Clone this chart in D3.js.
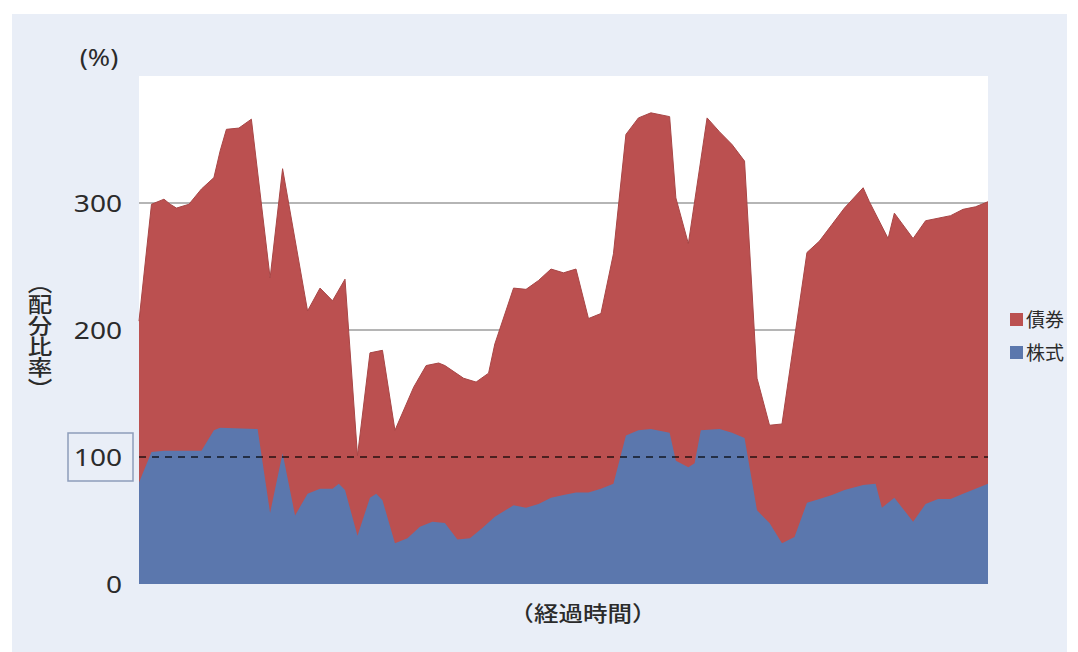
<!DOCTYPE html>
<html><head><meta charset="utf-8">
<script src="https://cdn.jsdelivr.net/npm/d3@7"></script>
<style>body{margin:0;background:#fff}</style>
</head><body><svg id="c" width="1078" height="652"></svg>
<script>
// ---- data ----
const yTicks = [0, 100, 200, 300];
const gridValues = [200, 300];
const referenceLevel = 100;
const seriesNames = ["債券", "株式"];
// time index (elapsed months) and stacked top of 債券 (株式 + 債券)
const totalMonths = [0,2,4,5,6,8,10,12,13,14,16,18,21,23,27,29,31,33,35,37,39,41,44,46,48,49,52,54,56,57,60,62,64,66,68,70,72,74,76,78,80,82,85,86,88,91,93,95,97,99,101,103,107,109,111,113,116,117,120,121,124,126,128,130,132,134,136];
const totalValues = [207,299,303,299,296,299,311,320,341,358,359,366,241,327,215,233,223,240,101,182,184,121,155,172,174,172,162,159,166,189,233,232,239,248,245,248,209,213,260,354,367,371,368,304,268,367,356,346,333,162,125,126,261,270,283,296,312,301,272,292,272,286,288,290,295,297,301];
// 株式
const stockMonths = [0,2,4,10,12,13,19,21,23,25,27,29,31,32,33,35,37,38,39,41,43,45,47,49,51,53,55,57,60,62,64,66,68,70,72,74,76,78,80,82,85,86,88,89,90,93,95,97,99,101,103,105,107,109,111,113,116,118,119,121,124,126,128,130,132,134,136];
const stockValues = [80,104,105,105,121,123,122,56,103,54,71,75,75,79,74,38,68,71,66,32,36,45,49,48,35,36,44,53,62,60,63,68,70,72,72,75,79,117,121,122,119,97,92,95,121,122,119,115,58,48,32,37,64,67,70,74,78,79,60,68,49,63,67,67,71,75,79];

// ---- layout ----
const W = 1078, H = 652;
const plot = {left: 139, right: 988, top: 76, bottom: 584};
const colors = {bond: "#bb5050", stock: "#5b77ad", panel: "#e9eef7", text: "#2b2b2b"};
const stretch = 1.17;

const svg = d3.select("#c");
svg.append("rect").attr("x", 12).attr("y", 14).attr("width", 1055).attr("height", H - 14).attr("fill", colors.panel);
svg.append("rect").attr("x", plot.left).attr("y", plot.top).attr("width", plot.right - plot.left).attr("height", plot.bottom - plot.top).attr("fill", "#fff");

const x = d3.scaleLinear().domain([0, 136]).range([plot.left, plot.right]);
const y = d3.scaleLinear().domain([0, 400]).range([plot.bottom, plot.top]);

// grid
svg.selectAll(".grid").data(gridValues).join("line")
  .attr("x1", plot.left).attr("x2", plot.right)
  .attr("y1", d => y(d)).attr("y2", d => y(d))
  .attr("stroke", "#b5b5b5").attr("stroke-width", 2);

const totalData = totalMonths.map((m, i) => ({m, v: totalValues[i]}));
const stockData = stockMonths.map((m, i) => ({m, v: stockValues[i]}));
const area = d3.area().x(d => x(d.m)).y0(y(0)).y1(d => y(d.v));
const line = d3.line().x(d => x(d.m)).y(d => y(d.v));

svg.append("path").datum(totalData).attr("d", area).attr("fill", colors.bond);
svg.append("path").datum(totalData).attr("d", line).attr("fill", "none")
  .attr("stroke", "#a84646").attr("stroke-width", 1);
svg.append("path").datum(stockData).attr("d", area).attr("fill", colors.stock);

// reference dashed line
svg.append("line").attr("x1", plot.left).attr("x2", plot.right)
  .attr("y1", y(referenceLevel)).attr("y2", y(referenceLevel))
  .attr("stroke", "#000").attr("stroke-opacity", 0.6).attr("stroke-width", 2.2)
  .attr("stroke-dasharray", "7,6");

// y axis labels
const yAxis = d3.axisLeft(y).tickValues(yTicks).tickSize(0).tickPadding(0);
const ga = svg.append("g").attr("transform", `translate(122,0)`).call(yAxis);
ga.select(".domain").remove();
ga.selectAll("text").attr("font-family", "'Noto Sans', sans-serif").attr("font-size", 24)
  .attr("fill", colors.text).attr("text-anchor", "end").attr("dy", "0.36em").attr("x", 0)
  .attr("transform", `scale(${stretch},1)`);

// box around 100
svg.append("rect").attr("x", 68).attr("y", y(referenceLevel) - 24).attr("width", 65).attr("height", 48)
  .attr("fill", "none").attr("stroke", "#8d9dbb").attr("stroke-width", 1.5);

function label(px, py, txt, size, family) {
  return svg.append("text").attr("transform", `translate(${px},${py}) scale(${stretch},1)`)
    .attr("text-anchor", "middle").attr("font-family", family).attr("font-size", size)
    .attr("fill", colors.text).text(txt);
}
// (%)
label(99, 58, "(%)", 23, "'Noto Sans', sans-serif").attr("dy", "0.36em");

// y title (vertical)
label(40, 336, "（配分比率）", 21, "'Noto Sans CJK JP', sans-serif")
  .style("writing-mode", "vertical-rl").attr("font-weight", 500);

// x title
label(583, 613, "（経過時間）", 21, "'Noto Sans CJK JP', sans-serif")
  .attr("dy", "0.36em").attr("font-weight", 500);

// legend
const legendColors = [colors.bond, colors.stock];
const lg = svg.append("g").selectAll("g").data(seriesNames).join("g")
  .attr("transform", (d, i) => `translate(1010,${320 + i * 33})`);
lg.append("rect").attr("x", 0).attr("y", -7).attr("width", 13).attr("height", 13).attr("fill", (d, i) => legendColors[i]);
lg.append("text").attr("x", 16).attr("dy", "0.36em")
  .attr("font-family", "'Noto Sans CJK JP', sans-serif").attr("font-size", 19)
  .attr("fill", colors.text).text(d => d);
</script></body></html>
